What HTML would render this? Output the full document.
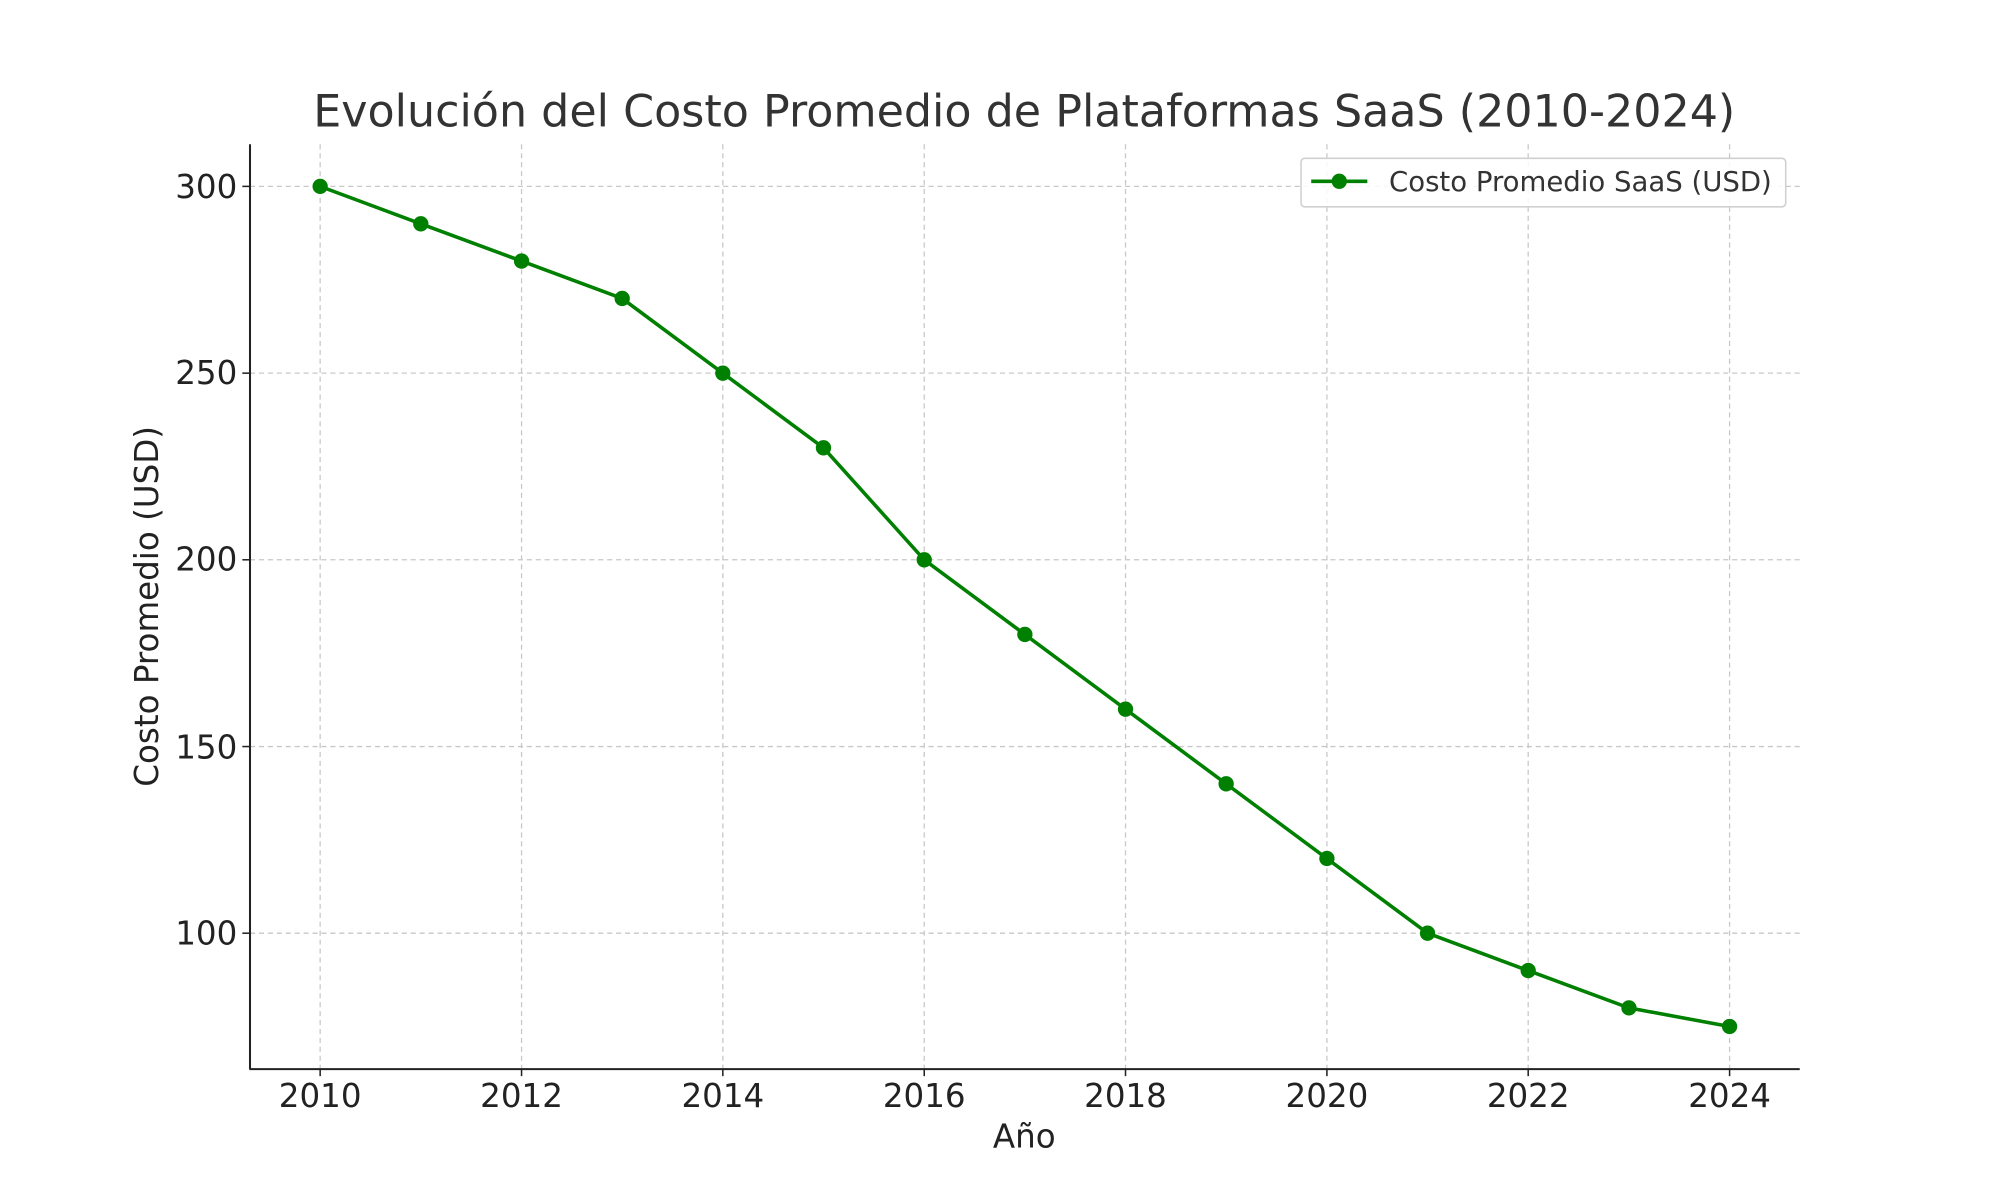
<!DOCTYPE html>
<html><head><meta charset="utf-8"><style>html,body{margin:0;padding:0;background:#fff}svg{display:block}</style></head>
<body>
<svg width="2000" height="1200" viewBox="0 0 1568 940" preserveAspectRatio="none" xmlns="http://www.w3.org/2000/svg" font-family="'DejaVu Sans','Liberation Sans',sans-serif">
<rect width="1568" height="940" fill="#fff"/>
<g stroke="#c8c8c8" stroke-width="1" stroke-dasharray="4,3">
<line x1="251" y1="113" x2="251" y2="837"/><line x1="408.9" y1="113" x2="408.9" y2="837"/><line x1="566.7" y1="113" x2="566.7" y2="837"/><line x1="724.6" y1="113" x2="724.6" y2="837"/><line x1="882.4" y1="113" x2="882.4" y2="837"/><line x1="1040.3" y1="113" x2="1040.3" y2="837"/><line x1="1198.1" y1="113" x2="1198.1" y2="837"/><line x1="1356" y1="113" x2="1356" y2="837"/>
<line x1="196" y1="146" x2="1411" y2="146"/><line x1="196" y1="292.3" x2="1411" y2="292.3"/><line x1="196" y1="438.5" x2="1411" y2="438.5"/><line x1="196" y1="584.8" x2="1411" y2="584.8"/><line x1="196" y1="731" x2="1411" y2="731"/>
</g>
<g stroke="#222" stroke-width="1.6" fill="none">
<line x1="196" y1="113" x2="196" y2="837.5"/><line x1="195.5" y1="837.5" x2="1411" y2="837.5"/>
</g>
<g stroke="#222" stroke-width="1.2">
<line x1="251" y1="837" x2="251" y2="843"/><line x1="408.9" y1="837" x2="408.9" y2="843"/><line x1="566.7" y1="837" x2="566.7" y2="843"/><line x1="724.6" y1="837" x2="724.6" y2="843"/><line x1="882.4" y1="837" x2="882.4" y2="843"/><line x1="1040.3" y1="837" x2="1040.3" y2="843"/><line x1="1198.1" y1="837" x2="1198.1" y2="843"/><line x1="1356" y1="837" x2="1356" y2="843"/>
<line x1="190" y1="146" x2="196" y2="146"/><line x1="190" y1="292.3" x2="196" y2="292.3"/><line x1="190" y1="438.5" x2="196" y2="438.5"/><line x1="190" y1="584.8" x2="196" y2="584.8"/><line x1="190" y1="731" x2="196" y2="731"/>
</g>
<g font-size="25.5" fill="#222" text-anchor="middle">
<text x="251" y="867">2010</text><text x="408.9" y="867">2012</text><text x="566.7" y="867">2014</text><text x="724.6" y="867">2016</text><text x="882.4" y="867">2018</text><text x="1040.3" y="867">2020</text><text x="1198.1" y="867">2022</text><text x="1356" y="867">2024</text>
</g>
<g font-size="25.5" fill="#222" text-anchor="end">
<text x="186" y="155">300</text><text x="186" y="301">250</text><text x="186" y="447">200</text><text x="186" y="594">150</text><text x="186" y="740">100</text>
</g>
<text x="803" y="899" font-size="25.5" fill="#222" text-anchor="middle">Año</text>
<text transform="translate(124,475) rotate(-90)" font-size="25.5" fill="#222" text-anchor="middle">Costo Promedio (USD)</text>
<text x="803" y="99" font-size="34.8" fill="#333" text-anchor="middle">Evolución del Costo Promedio de Plataformas SaaS (2010-2024)</text>
<polyline fill="none" stroke="#008000" stroke-width="2.8" points="251,146 329.9,175.3 408.9,204.5 487.8,233.8 566.7,292.3 645.6,350.8 724.6,438.5 803.5,497 882.4,555.5 961.3,614 1040.3,672.5 1119.2,731 1198.1,760.3 1277.1,789.5 1356,804.1"/>
<g fill="#008000">
<circle cx="251" cy="146" r="6"/><circle cx="329.9" cy="175.3" r="6"/><circle cx="408.9" cy="204.5" r="6"/><circle cx="487.8" cy="233.8" r="6"/><circle cx="566.7" cy="292.3" r="6"/><circle cx="645.6" cy="350.8" r="6"/><circle cx="724.6" cy="438.5" r="6"/><circle cx="803.5" cy="497" r="6"/><circle cx="882.4" cy="555.5" r="6"/><circle cx="961.3" cy="614" r="6"/><circle cx="1040.3" cy="672.5" r="6"/><circle cx="1119.2" cy="731" r="6"/><circle cx="1198.1" cy="760.3" r="6"/><circle cx="1277.1" cy="789.5" r="6"/><circle cx="1356" cy="804.1" r="6"/>
</g>
<rect x="1020" y="124" width="380" height="38" rx="3" fill="#fff" fill-opacity="0.85" stroke="#d0d0d0" stroke-width="1.2"/>
<line x1="1028" y1="142" x2="1072" y2="142" stroke="#008000" stroke-width="2.8"/>
<circle cx="1050" cy="142" r="6" fill="#008000"/>
<text x="1089" y="149.5" font-size="21.6" fill="#333">Costo Promedio SaaS (USD)</text>
</svg>
</body></html>
